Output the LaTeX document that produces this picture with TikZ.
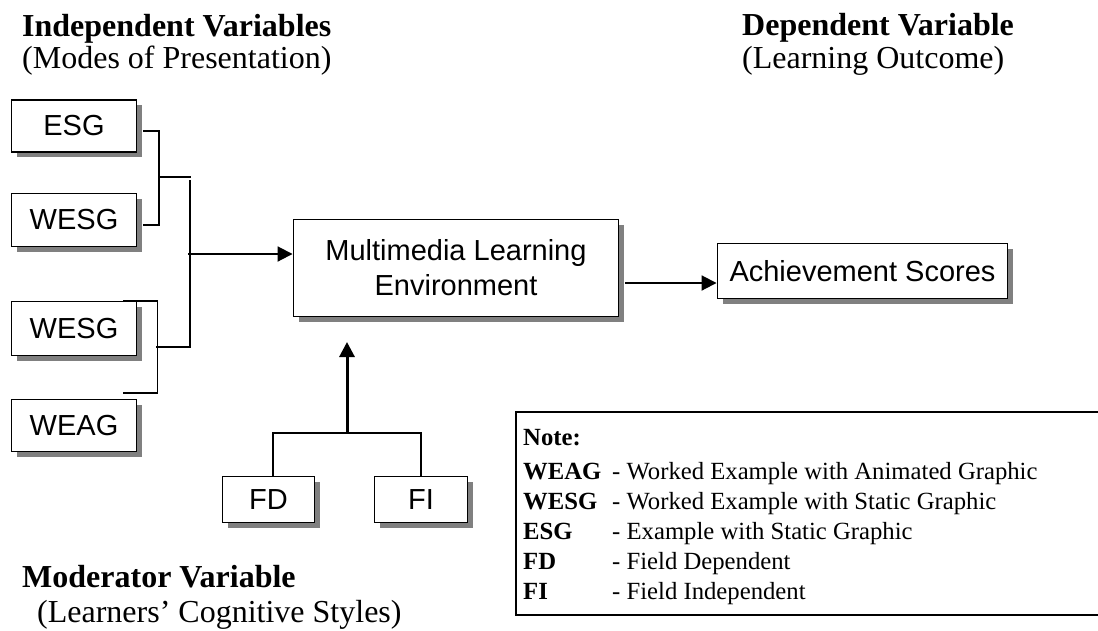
\documentclass[tikz,border=0pt]{standalone}
\usepackage{fontspec}
\setmainfont{Liberation Serif}
\setsansfont{Liberation Sans}
\usetikzlibrary{arrows.meta,shadows}
\begin{document}
\begin{tikzpicture}[x=1pt,y=-1pt,
  box/.style={draw, line width=1.9pt, fill=white, inner sep=0pt, align=center,
    font=\sffamily\fontsize{29}{35}\selectfont,
    general shadow={fill=gray, shadow xshift=5pt, shadow yshift=-5pt}},
  conn/.style={line width=1.9pt},
  arr/.style={conn, -{Triangle[length=15pt,width=15pt]}},
  marr/.style={line width=3pt, -{Triangle[length=15pt,width=15pt]}},
  head/.style={anchor=base west, inner sep=0pt, font=\fontsize{32}{32}\selectfont},
  notetxt/.style={anchor=base west, inner sep=0pt, font=\fontsize{24.7}{30}\selectfont},
  notebox/.style={line width=1.5pt}
]
\useasboundingbox (0,0) rectangle (1098,630);

% headers
\node[head] (h1) at (22,36) {\bfseries Independent Variables};
\node[head] (h1b) at (22,68) {(Modes of Presentation)};
\node[head] (h2) at (742,35) {\bfseries Dependent Variable};
\node[head] (h2b) at (742,68) {(Learning Outcome)};
\node[head] (h3) at (22,587) {\bfseries Moderator Variable};
\node[head] (h3b) at (37,622) {(Learners’ Cognitive Styles)};

% boxes
\node[box, minimum width=125pt, minimum height=52pt] (esg) at (74,126) {ESG};
\node[box, minimum width=125pt, minimum height=53pt] (wesg1) at (74,220) {WESG};
\node[box, minimum width=125pt, minimum height=54pt] (wesg2) at (74,328.5) {WESG};
\node[box, minimum width=125pt, minimum height=52pt] (weag) at (74,425.5) {WEAG};
\node[box, minimum width=325pt, minimum height=97pt] (mle) at (456,268) {Multimedia Learning\\Environment};
\node[box, minimum width=290pt, minimum height=55pt] (ach) at (862.5,271) {Achievement Scores};
\node[box, minimum width=92pt, minimum height=46pt] (fd) at (268.5,499.5) {FD};
\node[box, minimum width=93pt, minimum height=46pt] (fi) at (421,499.5) {FI};

% left brackets
\draw[conn] ([shift={(6,5)}]esg.east) -- ++(15.5,0) |- ([shift={(6,5)}]wesg1.east);
\coordinate (j1) at (158,177);
\coordinate (j2) at (191,177);
\draw[conn] (j1) -- (j2);
\coordinate (v1) at (190,180);
\coordinate (v2) at (190,347);
\coordinate (j3) at (156,347);
\draw[conn] (v1) -- (v2) -- (j3);
\draw[conn] ([xshift=-14pt]wesg2.north east) -- ++(34,0) -- ++(0,92) -- ++(-34,0);
\coordinate (j4) at (188,254);
\draw[arr] (j4) -- (j4 -| mle.west);

% to achievement
\coordinate (c1) at ([shift={(6,15)}]mle.east);
\draw[arr] (c1) -- (c1 -| ach.west);

% moderator
\coordinate (m1) at (347,433);
\coordinate (m2) at (347,342);
\draw[marr] (m1) -- (m2);
\draw[conn] ([xshift=4.5pt]fd.north) |- (m1) -| (fi.north);

% note
\coordinate (n1) at (1100,412);
\coordinate (n2) at (516,412);
\coordinate (n3) at (516,615);
\coordinate (n4) at (1100,615);
\draw[notebox] (n1) -- (n2) -- (n3) -- (n4);
\node[notetxt] (nt) at (523,445) {\bfseries Note:};
\node[notetxt] (a1) at (523,479) {\bfseries WEAG};
\node[notetxt] (b1) at (612,479) {- Worked Example with Animated Graphic};
\node[notetxt] (a2) at (523,509) {\bfseries WESG};
\node[notetxt] (b2) at (612,509) {- Worked Example with Static Graphic};
\node[notetxt] (a3) at (523,539) {\bfseries ESG};
\node[notetxt] (b3) at (612,539) {- Example with Static Graphic};
\node[notetxt] (a4) at (523,569) {\bfseries FD};
\node[notetxt] (b4) at (612,569) {- Field Dependent};
\node[notetxt] (a5) at (523,599) {\bfseries FI};
\node[notetxt] (b5) at (612,599) {- Field Independent};
\end{tikzpicture}
\end{document}
